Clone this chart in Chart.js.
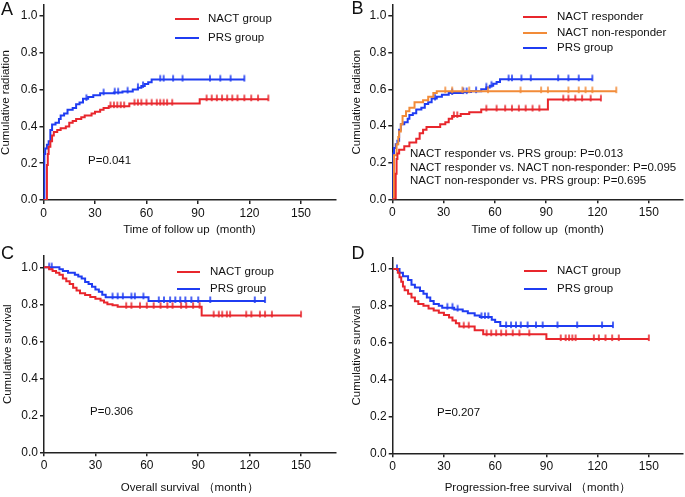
<!DOCTYPE html>
<html>
<head>
<meta charset="utf-8">
<script src="https://cdn.jsdelivr.net/npm/chart.js@4.4.1/dist/chart.umd.min.js"></script>
<style>
  html, body { margin: 0; padding: 0; background: #fff; overflow: hidden; }
  #wrap { position: relative; width: 685px; height: 497px; }
  canvas { position: absolute; }
</style>
</head>
<body>
<div id="wrap">
  <canvas id="chartA" width="342" height="240" style="left:0;top:0"></canvas>
  <canvas id="chartB" width="346" height="240" style="left:342px;top:0"></canvas>
  <canvas id="chartC" width="342" height="257" style="left:0;top:240px"></canvas>
  <canvas id="chartD" width="346" height="257" style="left:342px;top:240px"></canvas>
</div>
<script>
// ---- data (months, step values, censor times) ----
// A / B : cumulative radiation
const nactT = [0, 2, 2.5, 3, 4, 5, 6, 8, 10, 13, 15, 17, 19, 22, 24, 28, 30, 33, 35, 38, 50, 91, 131];
const nactV = [0, 0.19, 0.25, 0.29, 0.32, 0.35, 0.37, 0.38, 0.39, 0.40, 0.42, 0.43, 0.44, 0.45, 0.46, 0.47, 0.48, 0.49, 0.50, 0.51, 0.524, 0.548, 0.548];
const nactCens = [39, 41, 43, 45, 47, 53, 55, 57, 60, 63, 66, 68, 70, 72, 75, 95, 98, 101, 104, 107, 110, 113, 117, 121, 125, 131];

const prsT = [0, 0.5, 1, 2, 3, 4, 5, 7, 9, 10, 12, 14, 17, 19, 21, 23, 26, 29, 33, 41, 46, 52, 55, 57, 59, 61, 63, 117];
const prsV = [0, 0.25, 0.28, 0.30, 0.32, 0.38, 0.41, 0.42, 0.44, 0.46, 0.47, 0.49, 0.50, 0.52, 0.53, 0.55, 0.56, 0.57, 0.58, 0.585, 0.59, 0.60, 0.61, 0.62, 0.63, 0.64, 0.655, 0.655];
const prsCens = [25, 35, 41.5, 43.5, 49, 55, 58, 68, 70, 75.5, 81, 97, 103, 109, 117];

const respT = [0, 2, 2.5, 3, 4, 7, 10, 14, 16, 18, 20, 28, 31, 33, 35, 40, 45, 52, 91, 122];
const respV = [0, 0.14, 0.22, 0.25, 0.27, 0.29, 0.31, 0.33, 0.36, 0.38, 0.395, 0.41, 0.42, 0.44, 0.455, 0.465, 0.475, 0.49, 0.545, 0.545];
const respCens = [36, 38, 55, 61, 66, 70, 74, 78, 82, 86, 100, 103, 107, 111, 116, 122];

const nonRespT = [0, 1, 2.5, 3.5, 4, 5, 6, 8, 10, 13, 18, 21, 24, 26, 131];
const nonRespV = [0, 0.24, 0.30, 0.34, 0.37, 0.41, 0.455, 0.48, 0.50, 0.53, 0.54, 0.56, 0.58, 0.59, 0.59];
const nonRespCens = [31, 35, 41, 45, 56, 75, 87, 91, 103, 109, 113, 117, 131];

// C : overall survival
const osNactT = [0, 3, 5, 7, 9, 11, 13, 15, 17, 19, 21, 24, 27, 30, 33, 35, 37, 40, 43, 92, 150];
const osNactV = [1, 0.99, 0.98, 0.97, 0.96, 0.94, 0.925, 0.91, 0.89, 0.875, 0.86, 0.85, 0.84, 0.83, 0.82, 0.81, 0.80, 0.795, 0.787, 0.74, 0.74];
const osNactCens = [48, 51, 56, 60, 64, 68, 72, 75, 80, 83, 87, 90.8, 99, 102, 104, 106.7, 108.6, 118, 121, 126, 129, 133, 150];

const osPrsT = [0, 9, 11, 14, 18, 20, 22, 24, 26, 28, 30, 32, 34, 36, 61, 129];
const osPrsV = [1, 0.99, 0.98, 0.97, 0.96, 0.95, 0.94, 0.92, 0.91, 0.895, 0.88, 0.868, 0.852, 0.838, 0.818, 0.818];
const osPrsCens = [3, 4.5, 40, 43, 46, 51, 53, 58, 67, 70, 73.6, 76.6, 79.5, 82.5, 86, 90, 97, 123, 129];

// D : progression-free survival
const pfsNactT = [0, 3, 4, 5, 6, 7, 9, 11, 13, 15, 18, 21, 24, 27, 30, 33, 35, 37, 39, 48, 53, 90, 150];
const pfsNactV = [1, 0.98, 0.955, 0.93, 0.905, 0.885, 0.865, 0.845, 0.825, 0.81, 0.80, 0.785, 0.775, 0.763, 0.75, 0.737, 0.72, 0.705, 0.688, 0.668, 0.646, 0.62, 0.62];
const pfsNactCens = [41.6, 44.5, 55, 57.7, 60.6, 63.5, 66.4, 70.3, 74.2, 80, 98.4, 101.3, 103.3, 105.2, 107.1, 117.8, 120.7, 124.6, 128.5, 132.4, 150];

const pfsPrsT = [0, 4, 6, 9, 11, 13, 16, 18, 20, 22, 24, 27, 29, 36, 41, 44, 48, 51, 58, 60, 63, 129];
const pfsPrsV = [1, 0.98, 0.96, 0.94, 0.915, 0.90, 0.88, 0.865, 0.845, 0.826, 0.81, 0.80, 0.79, 0.78, 0.77, 0.76, 0.748, 0.74, 0.725, 0.712, 0.69, 0.69];
const pfsPrsCens = [2.5, 32, 35, 38, 52, 54, 56, 66.4, 69.3, 72.2, 75, 79, 83.9, 87.8, 96.5, 108, 122.6, 129];

// texts
const xTicks = [0, 30, 60, 90, 120, 150];
const pTextA = ['P=0.041'];
const pTextB = ['NACT responder vs. PRS group: P=0.013',
                'NACT responder vs. NACT non-responder: P=0.095',
                'NACT non-responder vs. PRS group: P=0.695'];
const pTextC = ['P=0.306'];
const pTextD = ['P=0.207'];

const RED = '#e8262c';
const BLUE = '#1f3cf2';
const ORANGE = '#f28b38';
const FONT = '"Liberation Sans", Arial, sans-serif';

Chart.defaults.font.family = FONT;
Chart.defaults.color = '#111';

function stepAt(ts, vs, t) {
  let v = vs[0];
  for (let i = 0; i < ts.length; i++) { if (ts[i] <= t) v = vs[i]; }
  return v;
}

// small censor tick, sticking up from the curve
function censorMark(color) {
  const c = document.createElement('canvas');
  c.width = 4; c.height = 12;
  const g = c.getContext('2d');
  g.strokeStyle = color;
  g.lineWidth = 1.6;
  g.beginPath();
  g.moveTo(2, 1.5);
  g.lineTo(2, 8);
  g.stroke();
  return c;
}

function curve(label, color, ts, vs, cens) {
  return [
    {
      type: 'line', label: label, data: ts.map((t, i) => ({ x: t, y: vs[i] })),
      borderColor: color, borderWidth: 2, stepped: 'before', pointRadius: 0, fill: false
    },
    {
      type: 'scatter', label: label + ' censored', isCensor: true,
      data: cens.map(t => ({ x: t, y: stepAt(ts, vs, t) })),
      pointStyle: censorMark(color), radius: 3,
      borderColor: color, backgroundColor: color
    }
  ];
}

const decor = {
  id: 'decor',
  afterDraw(chart, args, o) {
    const ctx = chart.ctx;
    ctx.save();
    ctx.fillStyle = '#111';
    ctx.textAlign = 'left';
    ctx.textBaseline = 'alphabetic';
    ctx.font = '18px ' + FONT;
    ctx.fillText(o.letter, o.letterX, o.letterY);

    ctx.font = '11.5px ' + FONT;
    ctx.textBaseline = 'middle';
    const entries = chart.data.datasets.filter(d => !d.isCensor);
    entries.forEach((d, i) => {
      const y = o.legY[i];
      ctx.strokeStyle = d.borderColor;
      ctx.lineWidth = 2;
      ctx.beginPath();
      ctx.moveTo(o.legX0, y);
      ctx.lineTo(o.legX1, y);
      ctx.stroke();
      ctx.fillText(d.label, o.legText, y);
    });
    o.pText.forEach((s, i) => ctx.fillText(s, o.pX, o.pY[i]));
    ctx.restore();
  }
};

function makeChart(id, p) {
  const axisColor = '#222';
  new Chart(document.getElementById(id), {
    data: { datasets: p.datasets },
    options: {
      responsive: false,
      animation: false,
      devicePixelRatio: 1,
      layout: { padding: { left: 0, top: p.top, right: p.right, bottom: 0 } },
      plugins: { legend: { display: false }, tooltip: { enabled: false }, decor: p.decor },
      scales: {
        x: {
          type: 'linear', min: 0, max: 170,
          border: { display: true, color: axisColor, width: 1.5 },
          grid: { drawOnChartArea: false, drawTicks: true, tickLength: 4, color: axisColor, lineWidth: 1.5 },
          afterBuildTicks(s) { s.ticks = xTicks.map(v => ({ value: v })); },
          ticks: { padding: 2, autoSkip: false, maxRotation: 0, font: { size: 12 }, color: '#111' },
          title: { display: true, text: p.xTitle, padding: { top: 0, bottom: p.xTitlePad }, font: { size: 11.5, lineHeight: 1 }, color: '#111' },
          afterFit(s) { s.height = p.xH; s.paddingLeft = 0; s.paddingRight = 0; }
        },
        y: {
          type: 'linear', min: 0, max: 1.06,
          border: { display: true, color: axisColor, width: 1.5 },
          grid: { drawOnChartArea: false, drawTicks: true, tickLength: 4, color: axisColor, lineWidth: 1.5 },
          ticks: { stepSize: 0.2, includeBounds: false, padding: 2, font: { size: 12 }, color: '#111',
                   callback: v => v.toFixed(1) },
          title: { display: true, text: p.yTitle, padding: { top: p.yTitlePad, bottom: 0 }, font: { size: 11.5, lineHeight: 1 }, color: '#111' },
          afterFit(s) { s.width = p.yW; s.paddingTop = 0; s.paddingBottom = 0; }
        }
      }
    },
    plugins: [decor]
  });
}

makeChart('chartA', {
  datasets: [...curve('NACT group', RED, nactT, nactV, nactCens), ...curve('PRS group', BLUE, prsT, prsV, prsCens)],
  top: 4.4, right: 6.7, yW: 43.5, xH: 40,
  xTitle: 'Time of follow up  (month)', xTitlePad: 4.25,
  yTitle: 'Cumulative radiation', yTitlePad: 0,
  decor: { letter: 'A', letterX: 1, letterY: 15, legX0: 175, legX1: 199, legText: 208, legY: [19, 38],
           pText: pTextA, pX: 88, pY: [161] }
});

makeChart('chartB', {
  datasets: [...curve('NACT responder', RED, respT, respV, respCens),
             ...curve('NACT non-responder', ORANGE, nonRespT, nonRespV, nonRespCens),
             ...curve('PRS group', BLUE, prsT, prsV, prsCens)],
  top: 2.9, right: 3.6, yW: 50.3, xH: 40.7,
  xTitle: 'Time of follow up  (month)', xTitlePad: 4.25,
  yTitle: 'Cumulative radiation', yTitlePad: 9,
  decor: { letter: 'B', letterX: 9.5, letterY: 14, legX0: 181, legX1: 205, legText: 215, legY: [17, 33, 48],
           pText: pTextB, pX: 68, pY: [154, 167.5, 181] }
});

makeChart('chartC', {
  datasets: [...curve('NACT group', RED, osNactT, osNactV, osNactCens), ...curve('PRS group', BLUE, osPrsT, osPrsV, osPrsCens)],
  top: 16.2, right: 6.7, yW: 44, xH: 44.7,
  xTitle: 'Overall survival （month）', xTitlePad: 3.25,
  yTitle: 'Cumulative survival', yTitlePad: 2,
  decor: { letter: 'C', letterX: 1, letterY: 18.5, legX0: 177, legX1: 200, legText: 210, legY: [32, 49],
           pText: pTextC, pX: 90, pY: [172] }
});

makeChart('chartD', {
  datasets: [...curve('NACT group', RED, pfsNactT, pfsNactV, pfsNactCens), ...curve('PRS group', BLUE, pfsPrsT, pfsPrsV, pfsPrsCens)],
  top: 17.9, right: 3.7, yW: 50.7, xH: 43.7,
  xTitle: 'Progression-free survival （month）', xTitlePad: 3.25,
  yTitle: 'Cumulative survival', yTitlePad: 9,
  decor: { letter: 'D', letterX: 9.5, letterY: 19, legX0: 182, legX1: 205, legText: 215, legY: [31, 49],
           pText: pTextD, pX: 95, pY: [173] }
});
</script>
</body>
</html>
